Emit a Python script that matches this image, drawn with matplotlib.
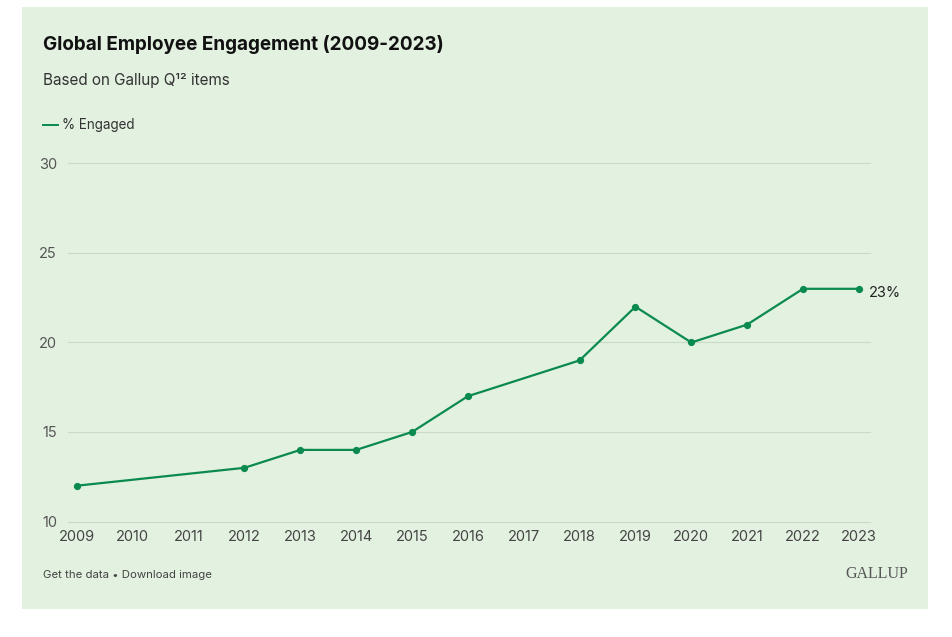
import matplotlib.pyplot as plt
from matplotlib.patches import Rectangle

# data
years = [2009, 2012, 2013, 2014, 2015, 2016, 2018, 2019, 2020, 2021, 2022, 2023]
engaged = [12, 13, 14, 14, 15, 17, 19, 22, 20, 21, 23, 23]
tick_years = list(range(2009, 2024))
y_ticks = [10, 15, 20, 25, 30]

W, H = 953, 637
GREEN = '#0b8a4f'
BG = '#e3f1e0'

plt.rcParams['font.family'] = ['Inter', 'DejaVu Sans']

fig = plt.figure(figsize=(W / 100, H / 100), dpi=100)
fig.patch.set_facecolor('white')

# green panel behind everything
fig.patches.append(Rectangle((22 / W, 1 - 609 / H), (928 - 22) / W, (609 - 7) / H,
                             transform=fig.transFigure, facecolor=BG, edgecolor='none', zorder=-5))

ax = fig.add_axes([68 / W, 1 - 521.5 / H, (870 - 68) / W, (521.5 - 163.5) / H])
ax.set_facecolor('none')
ax.set_zorder(1)

ax.plot(years, engaged, color=GREEN, lw=1.6, marker='o', ms=4.2, zorder=3, clip_on=False)
ax.annotate(f'{engaged[-1]}%', (years[-1], engaged[-1]), xytext=(7, -3),
            textcoords='offset points', fontsize=10.5, color='#222222', va='center', ha='left')

ax.set_xlim(2008.84, 2023.2)
ax.set_ylim(10, 30)
ax.set_xticks(tick_years)
ax.set_yticks(y_ticks)
ax.grid(axis='y', color='#cbd9c7', lw=0.8)
for gl in ax.yaxis.get_gridlines():
    gl.set_clip_on(False)
ax.set_axisbelow(True)
ax.tick_params(axis='both', length=0, labelsize=10.5, labelcolor='#555555')
ax.tick_params(axis='x', pad=6, labelcolor='#444444')
ax.tick_params(axis='y', pad=8)
for s in ax.spines.values():
    s.set_visible(False)

# titles and legend
fig.text(43 / W, 1 - 44 / H, 'Global Employee Engagement (2009-2023)', fontsize=13.6,
         fontweight='bold', color='#111111', va='center', ha='left')
fig.text(43 / W, 1 - 80 / H, 'Based on Gallup Q¹² items', fontsize=11, color='#333333',
         va='center', ha='left')
fig.lines.append(plt.Line2D([43 / W, 58 / W], [1 - 125 / H, 1 - 125 / H],
                            transform=fig.transFigure, color=GREEN, lw=1.4))
fig.text(62 / W, 1 - 125 / H, '% Engaged', fontsize=9.7, color='#333333', va='center', ha='left')

# footer
fig.text(43 / W, 1 - 575 / H, 'Get the data • Download image', fontsize=8.2, color='#444444',
         va='center', ha='left')
fig.text(908 / W, 1 - 574 / H, 'GALLUP', fontsize=11.5, color='#555555', va='center', ha='right',
         family=['Liberation Serif', 'DejaVu Serif'])

fig.savefig('out.png', dpi=100)
